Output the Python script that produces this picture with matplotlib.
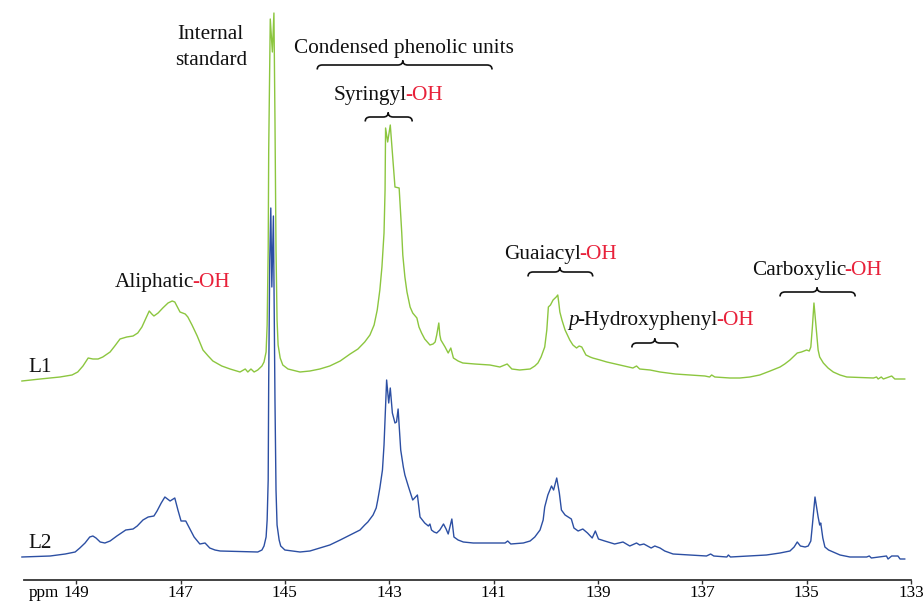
import matplotlib
matplotlib.use("Agg")
import matplotlib.pyplot as plt
from matplotlib.path import Path
from matplotlib.patches import PathPatch

plt.rcParams["font.family"] = ["Liberation Serif", "DejaVu Serif"]

# 31P NMR spectra: chemical shift (ppm) and intensity above each trace's baseline
l1_ppm = [150.04, 149.69, 149.31, 149.08, 148.97, 148.87, 148.77, 148.68, 148.58, 148.49,
          148.35, 148.26, 148.16, 148.03, 147.91, 147.82, 147.74, 147.66, 147.60, 147.55,
          147.51, 147.43, 147.34, 147.24, 147.16, 147.11, 147.05, 147.01, 146.91, 146.86,
          146.78, 146.68, 146.57, 146.47, 146.38, 146.21, 146.05, 145.86, 145.76, 145.71,
          145.65, 145.59, 145.52, 145.44, 145.40, 145.36, 145.34, 145.32, 145.31, 145.28,
          145.24, 145.21, 145.19, 145.17, 145.15, 145.13, 145.09, 145.04, 144.94, 144.71,
          144.52, 144.33, 144.14, 143.94, 143.75, 143.60, 143.47, 143.37, 143.29, 143.23,
          143.18, 143.14, 143.10, 143.08, 143.07, 143.03, 142.98, 142.92, 142.89, 142.81,
          142.76, 142.74, 142.70, 142.66, 142.60, 142.55, 142.47, 142.43, 142.38, 142.32,
          142.22, 142.16, 142.12, 142.09, 142.05, 142.03, 142.01, 141.93, 141.87, 141.82,
          141.77, 141.68, 141.59, 141.36, 141.07, 140.88, 140.74, 140.65, 140.50, 140.30,
          140.21, 140.15, 140.09, 140.02, 139.98, 139.95, 139.91, 139.86, 139.80, 139.77,
          139.75, 139.73, 139.69, 139.63, 139.54, 139.48, 139.41, 139.36, 139.31, 139.23,
          139.15, 139.10, 138.96, 138.83, 138.58, 138.33, 138.26, 138.20, 138.00, 137.81,
          137.52, 137.24, 136.95, 136.86, 136.82, 136.76, 136.47, 136.28, 136.09, 135.90,
          135.70, 135.51, 135.42, 135.32, 135.24, 135.18, 135.10, 135.00, 134.95, 134.92,
          134.89, 134.86, 134.82, 134.78, 134.75, 134.68, 134.59, 134.49, 134.36, 134.23,
          133.72, 133.66, 133.63, 133.57, 133.53, 133.37, 133.31, 133.12]
l1_int = [-1, 1, 3, 5, 8, 14, 22, 21, 21, 23,
          28, 34, 41, 43, 44, 47, 53, 62, 69, 66,
          64, 67, 72, 77, 79, 78, 72, 68, 66, 63,
          55, 44, 30, 24, 19, 14, 11, 8, 11, 8,
          11, 8, 10, 14, 18, 28, 55, 130, 230, 361,
          328, 367, 260, 130, 60, 35, 22, 15, 11, 8,
          9, 11, 14, 19, 26, 31, 38, 45, 55, 70,
          90, 113, 147, 190, 252, 238, 255, 213, 193, 192,
          147, 125, 103, 88, 73, 67, 62, 53, 47, 41,
          35, 36, 38, 45, 57, 45, 40, 33, 27, 32,
          22, 19, 17, 16, 15, 13, 16, 11, 10, 11,
          14, 17, 23, 33, 50, 73, 75, 80, 83, 85,
          77, 68, 60, 50, 40, 35, 32, 34, 33, 25,
          23, 22, 20, 18, 15, 12, 14, 11, 10, 8,
          6, 5, 4, 3, 5, 3, 2, 2, 3, 5,
          9, 13, 16, 20, 24, 27, 28, 30, 29, 33,
          53, 77, 53, 30, 23, 17, 12, 8, 5, 3,
          2, 3, 1, 3, 1, 4, 1, 1]

l2_ppm = [150.04, 149.50, 149.21, 149.02, 148.93, 148.83, 148.74, 148.68, 148.62, 148.54,
          148.45, 148.35, 148.22, 148.05, 147.91, 147.83, 147.72, 147.62, 147.51, 147.45,
          147.37, 147.30, 147.20, 147.11, 147.05, 146.99, 146.90, 146.84, 146.74, 146.63,
          146.53, 146.44, 146.34, 146.24, 145.52, 145.44, 145.40, 145.36, 145.34, 145.32,
          145.31, 145.29, 145.27, 145.25, 145.22, 145.21, 145.19, 145.17, 145.15, 145.11,
          145.08, 145.00, 144.71, 144.52, 144.33, 144.14, 143.94, 143.75, 143.56, 143.47,
          143.41, 143.31, 143.25, 143.22, 143.18, 143.13, 143.10, 143.08, 143.05, 143.01,
          142.98, 142.94, 142.89, 142.86, 142.83, 142.78, 142.73, 142.70, 142.63, 142.55,
          142.46, 142.41, 142.32, 142.25, 142.22, 142.19, 142.14, 142.09, 142.03, 141.96,
          141.91, 141.87, 141.80, 141.76, 141.68, 141.58, 141.39, 140.78, 140.73, 140.67,
          140.43, 140.30, 140.21, 140.11, 140.05, 140.02, 139.96, 139.89, 139.85, 139.79,
          139.74, 139.70, 139.63, 139.57, 139.51, 139.46, 139.38, 139.29, 139.20, 139.11,
          139.05, 138.99, 138.87, 138.68, 138.52, 138.39, 138.26, 138.20, 138.12, 137.98,
          137.91, 137.81, 137.72, 137.56, 137.24, 136.92, 136.84, 136.78, 136.53, 136.50,
          136.46, 135.77, 135.51, 135.32, 135.24, 135.18, 135.12, 135.03, 134.97, 134.92,
          134.89, 134.84, 134.80, 134.78, 134.75, 134.73, 134.69, 134.65, 134.58, 134.49,
          134.36, 134.17, 133.85, 133.80, 133.76, 133.47, 133.44, 133.37, 133.25, 133.21,
          133.12]
l2_int = [0, 1, 3, 5, 9, 14, 20, 21, 19, 15,
          14, 16, 21, 27, 28, 31, 37, 40, 41, 46,
          54, 60, 56, 59, 47, 36, 36, 30, 20, 13,
          14, 9, 7, 6, 5, 7, 11, 20, 37, 77,
          177, 297, 349, 270, 341, 277, 157, 67, 32, 17,
          11, 7, 5, 6, 9, 12, 17, 22, 27, 32,
          35, 42, 49, 57, 69, 87, 112, 137, 177, 154,
          169, 144, 134, 135, 148, 107, 90, 82, 70, 57,
          62, 40, 34, 31, 33, 27, 25, 24, 27, 33,
          28, 23, 38, 20, 17, 15, 14, 14, 16, 13,
          14, 16, 20, 27, 37, 50, 62, 71, 67, 79,
          64, 47, 42, 40, 38, 29, 26, 28, 24, 19,
          26, 18, 16, 13, 15, 11, 14, 12, 13, 9,
          11, 9, 6, 3, 2, 1, 3, 1, 0, 2,
          0, 2, 4, 6, 10, 15, 11, 10, 11, 16,
          32, 60, 47, 40, 32, 34, 19, 10, 7, 5,
          2, 0, 0, 1, -1, 1, -2, 1, 1, -2,
          -2]

ticks = [149, 147, 145, 143, 141, 139, 137, 135, 133]

GREEN = "#8cc63f"
BLUE = "#2c4fa3"
RED = "#e8213a"
K = "#111111"
PX = 1 / 52.18  # one pixel in ppm
FS = 15.3

fig = plt.figure(figsize=(9.23, 6.05), dpi=100)
ax = fig.add_axes([24 / 923, 25 / 605, 887 / 923, 580 / 605])
ax.set_xlim(150, 133)
ax.set_ylim(4, 584)

ax.plot(l1_ppm, [v + 204 for v in l1_int], color=GREEN, lw=1.0, clip_on=False)
ax.plot(l2_ppm, [v + 27 for v in l2_int], color=BLUE, lw=1.0, clip_on=False)

for s in ["left", "top", "right"]:
    ax.spines[s].set_visible(False)
ax.spines["bottom"].set_linewidth(1.3)
ax.spines["bottom"].set_color("#333333")
ax.set_yticks([])
ax.set_xticks(ticks)
ax.set_xticklabels([str(t) for t in ticks])
ax.tick_params(axis="x", direction="out", length=3, width=1, color="#333333",
               pad=0.6, labelsize=12.3)
ax.text(149.33, -1.0, "ppm", ha="right", va="top", fontsize=12.3)


def brace(x0, x1, xm, y, h=4.5):
    d = 5 * PX
    verts = [(x0, y - h), (x0, y), (x0 - d, y),
             (xm + d, y), (xm, y), (xm, y + h),
             (xm, y), (xm - d, y),
             (x1 + d, y), (x1, y), (x1, y - h)]
    codes = [Path.MOVETO, Path.CURVE3, Path.CURVE3,
             Path.LINETO, Path.CURVE3, Path.CURVE3,
             Path.CURVE3, Path.CURVE3,
             Path.LINETO, Path.CURVE3, Path.CURVE3]
    ax.add_patch(PathPatch(Path(verts, codes), fill=False, lw=1.2,
                           edgecolor=K, clip_on=False))


def label(x, y, parts):
    txt, col, sty = parts[0]
    t = ax.text(x, y, txt, color=col, style=sty, fontsize=FS, va="baseline", ha="left")
    for txt, col, sty in parts[1:]:
        t = ax.annotate(txt, xy=(1, 0), xycoords=t, xytext=(-1.2, 0),
                        textcoords="offset points", color=col, style=sty,
                        fontsize=FS, va="bottom", ha="left")


ax.text(146.42, 545, "Internal", ha="center", va="baseline", fontsize=FS, color=K)
ax.text(146.42, 519, "standard", ha="center", va="baseline", fontsize=FS, color=K)
ax.text(142.71, 531, "Condensed phenolic units", ha="center", va="baseline",
        fontsize=FS, color=K)
brace(144.38, 141.03, 142.74, 519)

label(144.06, 484, [("Syringyl", K, "normal"), ("-OH", RED, "normal")])
brace(143.46, 142.56, 143.02, 467)

label(148.26, 297, [("Aliphatic", K, "normal"), ("-OH", RED, "normal")])

label(140.80, 325, [("Guaiacyl", K, "normal"), ("-OH", RED, "normal")])
brace(140.34, 139.10, 139.73, 312)

label(139.56, 259, [("p", K, "italic"), ("-Hydroxyphenyl", K, "normal"),
                    ("-OH", RED, "normal")])
brace(138.35, 137.47, 137.91, 241)

label(136.05, 309, [("Carboxylic", K, "normal"), ("-OH", RED, "normal")])
brace(135.51, 134.07, 134.80, 292)

ax.text(149.92, 212, "L1", ha="left", va="baseline", fontsize=FS, color=K)
ax.text(149.92, 36, "L2", ha="left", va="baseline", fontsize=FS, color=K)

fig.savefig("out.png", dpi=100)
